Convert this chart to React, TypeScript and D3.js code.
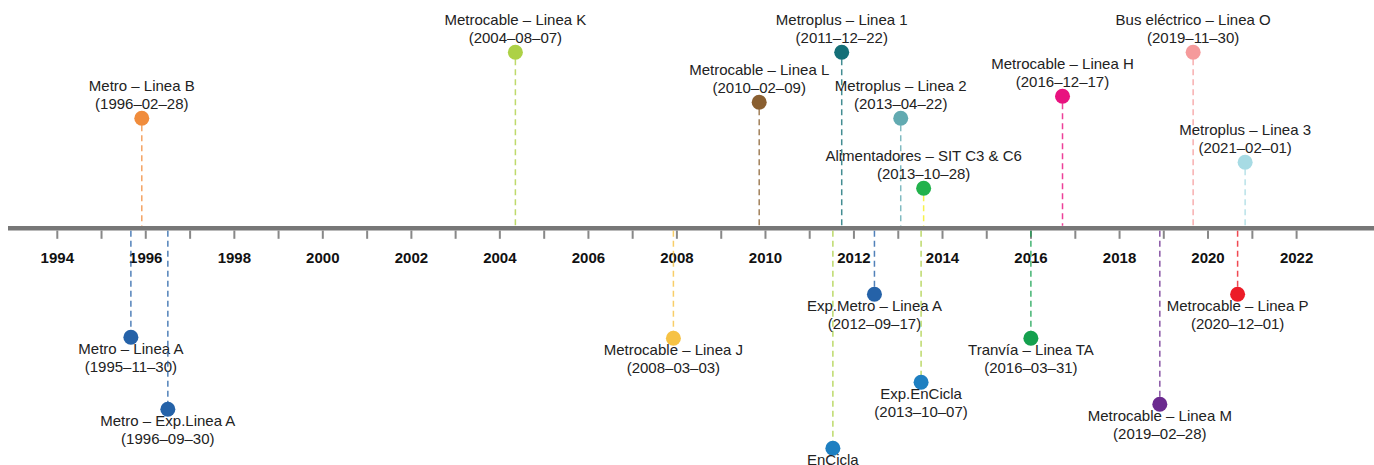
import * as d3 from "d3";

// events in date order, alternating above / below the axis
const names = [
  "Metro – Linea A",
  "Metro – Linea B",
  "Metro – Exp.Linea A",
  "Metrocable – Linea K",
  "Metrocable – Linea J",
  "Metrocable – Linea L",
  "EnCicla",
  "Metroplus – Linea 1",
  "Exp.Metro – Linea A",
  "Metroplus – Linea 2",
  "Exp.EnCicla",
  "Alimentadores – SIT C3 & C6",
  "Tranvía – Linea TA",
  "Metrocable – Linea H",
  "Metrocable – Linea M",
  "Bus eléctrico – Linea O",
  "Metrocable – Linea P",
  "Metroplus – Linea 3",
];
const dates = [
  "1995-11-30",
  "1996-02-28",
  "1996-09-30",
  "2004-08-07",
  "2008-03-03",
  "2010-02-09",
  "2011-10-10",
  "2011-12-22",
  "2012-09-17",
  "2013-04-22",
  "2013-10-07",
  "2013-10-28",
  "2016-03-31",
  "2016-12-17",
  "2019-02-28",
  "2019-11-30",
  "2020-12-01",
  "2021-02-01",
];
const dotColors = [
  "#2562a8", "#f08c3c", "#2562a8", "#add146", "#f6c244", "#8a5f30",
  "#1e7fc1", "#146f77", "#2562a8", "#62aab1", "#1e7fc1", "#22b24c",
  "#14a04e", "#e8127f", "#6b2a8f", "#f59a9b", "#ec1c27", "#a7dbe4",
];
const lineColors = [
  "#2562a8", "#f08c3c", "#2562a8", "#add146", "#f6c244", "#8a5f30",
  "#add146", "#146f77", "#2562a8", "#62aab1", "#add146", "#f5ee1f",
  "#14a04e", "#e8127f", "#6b2a8f", "#f59a9b", "#ec1c27", "#a7dbe4",
];
// stem length of each event (px from the axis)
const stems = [
  109, 110, 181, 176, 110, 126, 220, 176, 66,
  110, 154, 40, 110, 132, 176, 176, 66, 66,
];
const tickYears = d3.range(1994, 2023);

const W = 1374;
const H = 465;
const axisY = 228.3;

export default function App() {
  const parse = d3.timeParse("%Y-%m-%d");
  const x = d3
    .scaleTime()
    .domain([new Date(1994, 0, 1), new Date(2022, 0, 1)])
    .range([46.3, 1285.6]);
  const axisShift = 11; // the axis ticks sit a little right of the events

  const events = names.map((name, i) => {
    const above = i % 2 === 1;
    const cy = above ? axisY - stems[i] : axisY + stems[i];
    return { name, date: dates[i], cx: x(parse(dates[i])!), cy, above, i };
  });

  return (
    <svg
      width={W}
      height={H}
      style={{ position: "absolute", left: 0, top: 0, fontFamily: "'Liberation Sans', Arial, sans-serif" }}
    >
      <line x1={8} x2={W} y1={axisY} y2={axisY} stroke="#777" strokeWidth={4.5} />
      <g transform={`translate(${axisShift},0)`}>
        {tickYears.map((yr) => {
          const tx = x(new Date(yr, 0, 1));
          return (
            <g key={yr} transform={`translate(${tx},0)`}>
              <line y1={axisY + 2.2} y2={axisY + 10.5} stroke="#888" strokeWidth={2} />
              {yr % 2 === 0 && (
                <text y={262.5} textAnchor="middle" fontSize={15} fontWeight="bold" fill="#111">
                  {yr}
                </text>
              )}
            </g>
          );
        })}
      </g>
      {events.map((e) => (
        <g key={e.name}>
          <line
            x1={e.cx}
            x2={e.cx}
            y1={e.above ? e.cy + 7 : axisY + 2.5}
            y2={e.above ? axisY - 2.5 : e.cy - 7}
            stroke={lineColors[e.i]}
            strokeOpacity={0.8}
            strokeWidth={1.5}
            strokeDasharray="6,4"
          />
          <circle cx={e.cx} cy={e.cy} r={7.5} fill={dotColors[e.i]} />
          <text
            x={e.cx}
            textAnchor="middle"
            fontSize={15}
            fill="#222"
          >
            <tspan x={e.cx} y={e.above ? e.cy - 27 : e.cy + 17}>{e.name}</tspan>
            <tspan x={e.cx} y={e.above ? e.cy - 9.5 : e.cy + 34.5}>
              ({e.date.replace(/-/g, "–")})
            </tspan>
          </text>
        </g>
      ))}
    </svg>
  );
}
